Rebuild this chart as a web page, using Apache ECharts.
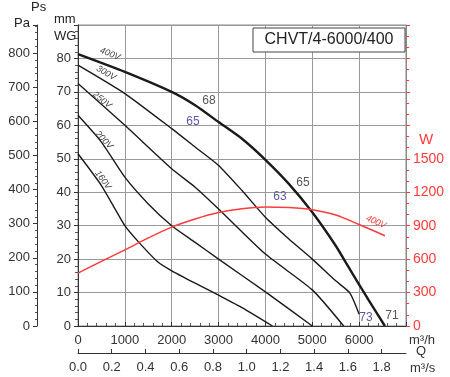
<!DOCTYPE html>
<html>
<head>
<meta charset="utf-8">
<script src="https://cdn.jsdelivr.net/npm/echarts@6/dist/echarts.min.js"></script>
<style>
  html, body { margin: 0; padding: 0; background: #fff; }
  #main { width: 450px; height: 377px; }
</style>
</head>
<body>
<div id="main"></div>
<script>
// pressure curves, [m3/h, mmWG]
var curve400 = [[0,81.3],[1000,76],[2000,70],[2500,66],[3000,61],[3500,56],[4000,49.7],[4500,42.5],[5000,34],[5500,24],[5800,17],[6200,7.8],[6550,0]];
var curve300 = [[0,78],[1000,69.5],[2000,59],[2500,53.5],[3000,48],[3500,40.5],[4000,32.5],[4500,26],[5000,20],[5500,13.5],[5800,9.9],[6000,3.5]];
var curve250 = [[0,72.5],[1000,60],[2000,47],[2500,41.5],[3000,35],[4000,21.5],[5000,10.8],[5670,0]];
var curve200 = [[0,63],[500,55],[1000,44.5],[1500,36.5],[2000,30],[2500,25],[3000,20],[4000,10.2],[5000,0]];
var curve160 = [[0,51.5],[500,42],[1000,30],[1300,25],[1700,19.2],[2000,16.5],[2500,12.8],[3000,9.2],[3500,5.5],[4150,0]];
// power at 400V, [m3/h, W]
var power400 = [[0,475],[500,580],[1000,683],[1500,790],[2000,887],[2500,960],[3000,1018],[3500,1052],[4000,1068],[4500,1062],[5000,1042],[5500,995],[6000,910],[6550,810]];

var font = 'Liberation Sans, Arial, sans-serif';
var dom = document.getElementById('main');
var myChart = echarts.init(dom);
var red = '#ff3b3b';
var qMax = 7000 / 3600;

function plain(v) { return String(v); }

function blackLine(name, data, w) {
    return {
        name: name, type: 'line', data: data, smooth: 0.2, showSymbol: false,
        xAxisIndex: 0, yAxisIndex: 0,
        lineStyle: { color: '#1a1a1a', width: w }
    };
}

var txt = function (x, y, s, size, color, extra) {
    var e = { type: 'text', x: x, y: y, z: 50,
        style: { text: s, font: size + 'px ' + font, fill: color, align: 'center', verticalAlign: 'middle' } };
    if (extra) { for (var k in extra) e[k] = extra[k]; }
    return e;
};

var option = {
    backgroundColor: '#ffffff',
    animation: false,
    grid: [
        { left: 78, right: 44, top: 25, bottom: 51, show: true, borderColor: '#888', borderWidth: 1 },
        // strip that carries the m3/s scale
        { left: 78, right: 44, top: 349, height: 4 }
    ],
    xAxis: [
        {
            gridIndex: 0, type: 'value', min: 0, max: 7000, interval: 1000, position: 'bottom',
            axisLine: { onZero: false, lineStyle: { color: '#333' } },
            axisTick: { show: true, inside: true, length: 4, lineStyle: { color: '#333' } },
            minorTick: { show: true, splitNumber: 5, length: 3, lineStyle: { color: '#555' } },
            axisLabel: { color: '#333', fontSize: 13, fontFamily: font, margin: 8, showMaxLabel: false, formatter: plain },
            splitLine: { show: true, lineStyle: { color: '#999', width: 1 } }
        },
        {
            gridIndex: 1, type: 'value', min: 0, max: qMax, interval: 0.2, position: 'bottom',
            axisLine: { show: true, onZero: false, lineStyle: { color: '#333', width: 1 } },
            axisTick: { show: true, inside: true, length: 4, lineStyle: { color: '#333' } },
            axisLabel: { color: '#333', fontSize: 13, fontFamily: font, margin: 8, showMaxLabel: false,
                formatter: function (v) { return v.toFixed(1); } },
            splitLine: { show: false }
        }
    ],
    yAxis: [
        {
            gridIndex: 0, type: 'value', min: 0, max: 90, interval: 10, position: 'left',
            axisLine: { show: true, onZero: false, lineStyle: { color: '#333' } },
            axisTick: { show: true, length: 4, lineStyle: { color: '#333' } },
            minorTick: { show: true, splitNumber: 5, length: 3, lineStyle: { color: '#555' } },
            axisLabel: { color: '#333', fontSize: 13, fontFamily: font, margin: 7, showMaxLabel: false, formatter: plain },
            splitLine: { show: true, lineStyle: { color: '#999', width: 1 } }
        },
        {
            gridIndex: 0, type: 'value', min: 0, max: 882.6, interval: 100, position: 'left', offset: 41,
            axisLine: { show: true, onZero: false, lineStyle: { color: '#333' } },
            axisTick: { show: true, length: 4, lineStyle: { color: '#333' } },
            minorTick: { show: true, splitNumber: 5, length: 2, lineStyle: { color: '#555' } },
            axisLabel: { color: '#333', fontSize: 13, fontFamily: font, margin: 7, showMaxLabel: false, formatter: plain },
            splitLine: { show: false }
        },
        {
            gridIndex: 0, type: 'value', min: 0, max: 2700, interval: 300, position: 'right',
            axisLine: { show: true, onZero: false, lineStyle: { color: '#888' } },
            axisTick: { show: true, length: 4, lineStyle: { color: red } },
            minorTick: { show: true, splitNumber: 3, length: 3, lineStyle: { color: red } },
            axisLabel: { color: red, fontSize: 14, fontFamily: font, margin: 7,
                formatter: function (v) { return v > 1500 ? '' : String(v); } },
            splitLine: { show: false }
        },
        {
            gridIndex: 1, type: 'value', min: 0, max: 1, show: false
        }
    ],
    series: [
        blackLine('400V', curve400, 2.4),
        blackLine('300V', curve300, 1.4),
        blackLine('250V', curve250, 1.4),
        blackLine('200V', curve200, 1.4),
        blackLine('160V', curve160, 1.4),
        {
            name: 'W 400V', type: 'line', data: power400, smooth: 0.3, showSymbol: false,
            xAxisIndex: 0, yAxisIndex: 2,
            lineStyle: { color: red, width: 1.5 }
        },
        { name: 'Q m3/s', type: 'line', data: [], xAxisIndex: 1, yAxisIndex: 3, showSymbol: false }
    ],
    graphic: [
        { type: 'text', left: 31, top: 1, style: { text: 'Ps', font: '13px ' + font, fill: '#222' } },
        { type: 'text', left: 14, top: 17, style: { text: 'Pa', font: '13px ' + font, fill: '#222' } },
        { type: 'text', left: 54, top: 13, style: { text: 'mm', font: '13px ' + font, fill: '#222' } },
        { type: 'text', left: 54, top: 30, style: { text: 'WG', font: '13px ' + font, fill: '#222' } },
        { type: 'text', left: 409, top: 334, style: { text: 'm³/h', font: '13px ' + font, fill: '#333' } },
        { type: 'text', left: 416, top: 345, style: { text: 'Q', font: '13px ' + font, fill: '#333' } },
        { type: 'text', left: 410, top: 362, style: { text: 'm³/s', font: '13px ' + font, fill: '#333' } },
        { type: 'text', left: 419, top: 132, style: { text: 'W', font: '15px ' + font, fill: red } },
        { type: 'rect', shape: { x: 253, y: 28, width: 152, height: 24 },
          style: { fill: '#fff', stroke: '#444', lineWidth: 1 }, z: 100 },
        txt(329, 40, 'CHVT/4-6000/400', 16, '#222', { z: 101 }),
        // curve names
        txt(110, 54, '400V', 'italic 9', '#444', { rotation: -0.37 }),
        txt(106, 73, '300V', 'italic 9', '#444', { rotation: -0.52 }),
        txt(102, 100, '250V', 'italic 9', '#444', { rotation: -0.68 }),
        txt(104, 140, '200V', 'italic 9', '#444', { rotation: -0.8 }),
        txt(103, 180, '160V', 'italic 9', '#444', { rotation: -0.95 }),
        txt(376, 222, '400V', 'italic 9', red, { rotation: -0.42 }),
        // efficiency marks
        txt(209, 101, '68', 12, '#555'),
        txt(193, 122, '65', 12, '#5a5aa8'),
        txt(303, 183, '65', 12, '#555'),
        txt(280, 197, '63', 12, '#5a5aa8'),
        txt(366, 318, '73', 12, '#5a5aa8'),
        txt(392, 316, '71', 12, '#555')
    ]
};

myChart.setOption(option, true);
</script>
</body>
</html>
